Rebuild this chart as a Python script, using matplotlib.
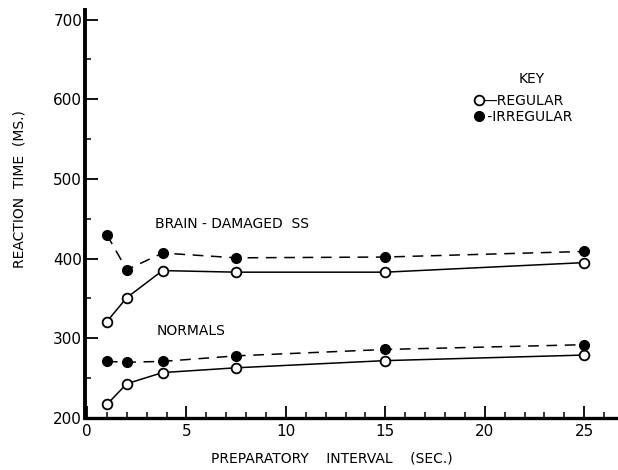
import matplotlib
matplotlib.use("Agg")
import matplotlib.pyplot as plt
from matplotlib.lines import Line2D
from matplotlib.ticker import MultipleLocator

# Preparatory intervals (sec.)
interval = [1, 2, 3.8, 7.5, 15, 25]

# Mean reaction times (ms.)
brain_regular = [321, 351, 385, 383, 383, 395]
brain_irregular = [430, 386, 407, 401, 402, 409]
normal_regular = [217, 243, 257, 263, 272, 279]
normal_irregular = [271, 270, 271, 278, 286, 292]

x_ticks = [0, 5, 10, 15, 20, 25]
y_ticks = [200, 300, 400, 500, 600, 700]

plt.rcParams["font.family"] = ["DejaVu Sans"]

fig = plt.figure(figsize=(6.18, 4.70), dpi=100)
ax = fig.add_axes([85 / 618, 1 - 418 / 470, 1 - 85 / 618, 408 / 470])

open_style = dict(color="black", lw=1.1, marker="o", ms=7, mfc="white",
                  mec="black", mew=1.3, ls="-", clip_on=False, zorder=3)
filled_style = dict(color="black", lw=1.1, marker="o", ms=7, mfc="black",
                    mec="black", ls=(0, (7, 5)), clip_on=False, zorder=3)

ax.plot(interval, brain_regular, **open_style)
ax.plot(interval, brain_irregular, **filled_style)
ax.plot(interval, normal_regular, **open_style)
ax.plot(interval, normal_irregular, **filled_style)

ax.set_xlim(-0.1, 26.7)
ax.set_ylim(200, 712)

ax.set_xticks(x_ticks)
ax.set_yticks(y_ticks)
ax.xaxis.set_minor_locator(MultipleLocator(1))
ax.yaxis.set_minor_locator(MultipleLocator(50))

for side in ("top", "right"):
    ax.spines[side].set_visible(False)
ax.spines["left"].set_linewidth(2.8)
ax.spines["bottom"].set_linewidth(2.4)

ax.tick_params(axis="both", which="major", direction="in", length=9,
               width=1.3, labelsize=11, pad=4)
ax.tick_params(axis="both", which="minor", direction="in", length=4.5,
               width=1.1)
ax.tick_params(axis="y", which="major", pad=2)

ax.set_ylabel("REACTION  TIME  (MS.)", fontsize=10, labelpad=0, va="center")
ax.yaxis.set_label_coords(-65 / 533, 0.56)
ax.set_xlabel("PREPARATORY    INTERVAL    (SEC.)", fontsize=10, va="center")
ax.xaxis.set_label_coords((332 - 85) / 533, -(459 - 418) / 408)

ax.text(3.4, 444, "BRAIN - DAMAGED  SS", fontsize=10, va="center", ha="left")
ax.text(3.5, 309, "NORMALS", fontsize=10, va="center", ha="left")

handles = [
    Line2D([], [], marker="o", ms=7, mfc="white", mec="black", mew=1.3, ls="none"),
    Line2D([], [], marker="o", ms=7, mfc="black", mec="black", ls="none"),
]
leg = ax.legend(handles, ["\u2014REGULAR", " -IRREGULAR"], title="KEY",
                loc="upper left", bbox_to_anchor=((468 - 85) / 533, 1 - (65 - 10) / 408),
                frameon=False, handlelength=0.6, handletextpad=0.0,
                labelspacing=0.1, borderpad=0, fontsize=10, title_fontsize=10)
leg._legend_box.sep = 6
leg.get_title().set_position((8, 0))

fig.savefig("out.png", dpi=100)
